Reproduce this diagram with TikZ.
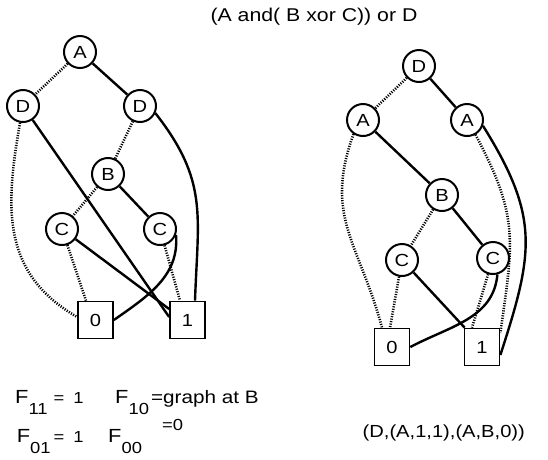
\documentclass[tikz,border=0pt]{standalone}
\usepackage{fontspec}
\setmainfont{Liberation Sans}[FakeStretch=1.15]
\usepackage{tikz}

\newcommand{\fsz}[1]{\fontsize{#1}{#1}\selectfont}

\begin{document}
\begin{tikzpicture}[x=1pt,y=1pt,
    var/.style={circle, draw, line width=2pt, minimum size=32pt, inner sep=0pt,
      font=\fsz{17.5}},
    leaf/.style={rectangle, draw, line width=1.7pt, minimum width=35pt,
      minimum height=37pt, inner sep=0pt, font=\fsz{17.5}},
    hi/.style={line width=2.4pt},
    lo/.style={line width=2.6pt, dash pattern=on 1.1pt off 1.4pt},
    lbl/.style={anchor=base west, inner sep=0pt, font=\fsz{19}}]

  \useasboundingbox (0,0) rectangle (548,-459);

  % title
  \node (title) at (314,-17) [font=\fsz{18.5}] {(A and( B xor C)) or D};

  % left diagram: order A, D, B, C
  \foreach \n/\t/\x/\y in {
    A1/A/80/-52, Dl/D/23/-106, Dr/D/140/-106,
    B1/B/108/-174, Cl/C/62/-229, Cr/C/160/-229%
  } {
    \node [var] (\n) at (\x,\y) {\t};
  }
  \node [leaf] (Z1) at (95.5,-320) {0};
  \node [leaf] (O1) at (187.5,-320) {1};

  \draw [lo] (A1) -- (Dl);
  \draw [hi] (A1) -- (Dr);
  \draw [lo] (Dl) to[out=-100, in=150, looseness=1.1] ([yshift=3pt]Z1.west);
  \draw [hi] (Dl) -- ([yshift=3pt]O1.west);
  \draw [lo] (Dr) -- (B1);
  \draw [hi] (Dr.-25) to[out=-52, in=88, looseness=1.15] ([xshift=7.5pt]O1.north);
  \draw [lo] (B1) -- (Cl);
  \draw [hi] (B1) -- (Cr);
  \draw [lo] (Cl) -- ([xshift=-9.5pt]Z1.north);
  \draw [hi] (Cl) -- ([yshift=11pt]O1.west);
  \draw [lo] (Cr) -- ([xshift=-7.5pt]O1.north);
  \draw [hi] (Cr.-20) to[out=-85, in=35] (Z1.east);

  % right diagram: order D, A, B, C
  \foreach \n/\t/\x/\y in {
    D2/D/419/-66, Al/A/363/-120, Ar/A/467/-120,
    B2/B/442/-195, Cm/C/402/-260, Cn/C/493/-258%
  } {
    \node [var] (\n) at (\x,\y) {\t};
  }
  \node [leaf] (Z2) at (392,-347) {0};
  \node [leaf] (O2) at (482,-347) {1};

  \draw [lo] (D2) -- (Al);
  \draw [hi] (D2) -- (Ar);
  \draw [hi] (Al) -- (B2);
  \draw [lo] (Al.-124) to[out=-110, in=105, looseness=1.15] ([xshift=-10pt]Z2.north);
  \draw [lo] (Ar.-60) to[out=-62, in=82, looseness=1.2] ([yshift=14pt]O2.east);
  \draw [hi] (Ar.-20) to[out=-58, in=72, looseness=1.2] ([yshift=-8pt]O2.east);
  \draw [lo] (B2) -- (Cm);
  \draw [hi] (B2) -- (Cn);
  \draw [lo] (Cm) -- ([xshift=-2pt]Z2.north);
  \draw [hi] (Cm) -- ([xshift=1pt]O2.north west);
  \draw [lo] (Cn) -- ([xshift=-10pt]O2.north);
  \draw [hi] (Cn.-75) to[out=-95, in=28] (Z2.east);

  % cofactors
  \node [lbl] (f11) at (15,-403)
    {F\raisebox{-11pt}{\fsz{16}11}\hspace{6pt}{\fsz{16}=\hspace{9pt}1}};
  \node [lbl] (f10) at (115,-403)
    {F\raisebox{-11pt}{\fsz{16}10}\hspace{2pt}{\fsz{18}=graph at B}};
  \node [lbl] (f01) at (16.7,-442)
    {F\raisebox{-11pt}{\fsz{16}01}\hspace{3pt}{\fsz{16}=\hspace{9pt}1}};
  \node [lbl] (f00) at (108,-442)
    {F\raisebox{-11pt}{\fsz{16}00}\hspace{20pt}\raisebox{12pt}{\fsz{16}=0}};
  \node [lbl, font=\fsz{17.5}] (tuple) at (362.5,-437) {(D,(A,1,1),(A,B,0))};
\end{tikzpicture}
\end{document}
